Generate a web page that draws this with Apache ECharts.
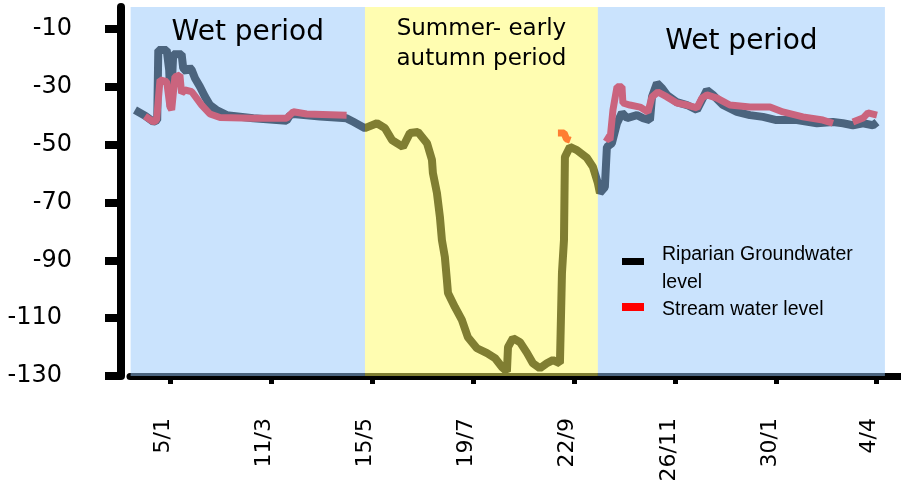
<!DOCTYPE html>
<html>
<head>
<meta charset="utf-8">
<script src="https://cdn.jsdelivr.net/npm/echarts@6/dist/echarts.min.js"></script>
<style>
html,body{margin:0;padding:0;background:#fff;}
#chart{width:901px;height:485px;}
</style>
</head>
<body>
<div id="chart"></div>
<script>
// x values are days counted from 5 January (first tick)
var tickDays = [0, 65, 130, 195, 260, 325, 390, 454];
var tickLabels = ['5/1', '11/3', '15/5', '19/7', '22/9', '26/11', '30/1', '4/4'];
var yTicks = [-130, -110, -90, -70, -50, -30, -10];

// Riparian groundwater level
var gwDay = [-22.5, -16, -10.7, -8.2, -7.5, -2.1, -0.5, 0.5, 1.2, 2.1, 7.5, 8.5, 10.7, 12.5, 14, 16.1, 19.3, 22.5, 25.7, 30, 36.5, 53.6, 75, 77, 79.3, 96.5, 113.6, 117.9, 125.4,
  133.1, 138.3, 142.8, 149.8, 154.3, 159.5, 165.3, 168.5, 169.1, 171.7, 173.6, 174.9, 176.8, 178.1, 178.8, 183.3, 187.8, 191.6, 197.4, 203.9, 209, 213.5, 216.7, 217.4, 220.6, 225.1, 229.6, 233.4, 237.9, 242.4, 246.3, 250.8, 252.1, 253.4, 254, 257.2, 261.7, 268.2, 272, 275.2,
  276.5, 279.7, 281, 284.2, 287.5, 290.7, 293.9, 300.3, 304.2, 308.7, 310, 313.2, 316.4, 319.6, 326, 332.5, 338.9, 342.1, 345.3, 349.2, 355.6, 364.6, 373, 381.4, 390, 403.2, 416.1, 426.4, 432.8, 439.2, 445.7, 452.1, 454.7];
var gwLevel = [-38.0, -40.0, -42.1, -41.5, -17.3, -17.3, -24.2, -36.9, -37.5, -18.7, -18.7, -23.5, -24.8, -23.2, -24.2, -27, -30, -33.4, -36.3, -38, -39.8, -40.9, -41.7, -40.0, -39.4, -40.3, -40.9, -42.1, -44.3,
  -42.6, -44.3, -48.4, -50.8, -46, -45.6, -49.5, -55.3, -59.8, -66.7, -75, -83, -88.9, -96.8, -101.3, -106.2, -110.7, -116.6, -120.4, -122.1, -123.8, -126.9, -128.5, -120, -116.9, -118.3, -122, -125.6, -127.3, -125.6, -124.5, -125.6, -94.4, -83, -54.3, -50.8, -51.9, -54.6, -57.7, -63.3,
  -66.7, -64.7, -50.8, -49.5, -42.6, -39, -40.8, -39.8, -40.8, -41.5, -33.5, -28.7, -30.4, -32.8, -35.3, -36.3, -38, -34.6, -31.1, -32.8, -36.3, -38.7, -39.8, -40.4, -41.5, -41.5, -42.6, -42.2, -42.6, -43.3, -42.6, -43.3, -42.2];

// Stream water level (null = no record)
var swDay = [-16.1, -10.7, -8.6, -7.5, -6.4, -2.1, 0, 1.1, 3.2, 6.4, 7.5, 9.6, 14, 17.2, 20.4, 25.7, 32.2, 53.6, 75, 79.3, 87.9, 113.6, 180,
  249.5, 253.5, 255, 257.5, 268,
  279.7, 283, 284.9, 287.5, 290.7, 291.3, 295.8, 302.3, 307.4, 310, 313.8, 319.6, 326, 332.5, 338.9, 342.1, 345.3, 351.8, 360.1, 373, 385.9, 394.2, 407.1, 419.9, 426.4, 432,
  439.2, 445.7, 448.9, 454.7];
var swLevel = [-40.1, -42.1, -41.5, -34.6, -27.6, -28.2, -36.9, -38, -26.5, -25.9, -32.2, -31.1, -31.7, -34, -36.3, -39.4, -40.6, -40.9, -40.9, -38.6, -39.4, -39.8, null,
  -46, -46, -48, -48.5, null,
  -47.3, -48.4, -38, -30, -30, -35.6, -36.3, -37, -38.7, -33.5, -31.8, -33.5, -35.6, -36.3, -37.3, -33.9, -32.8, -33.9, -36.3, -37, -37, -38.7, -40.4, -41.5, -42.6, null,
  -42.2, -40.8, -39, -39.8];

// shaded periods
var periodStart = [-25.3, 125.4, 275.2];
var periodEnd = [125.4, 275.2, 459.8];
var periodNames = ['Wet period', 'Summer- early\nautumn period', 'Wet period'];
var periodColors = ['rgba(150,200,252,0.5)', 'rgba(255,252,100,0.5)', 'rgba(150,200,252,0.5)'];

var gwName = 'Riparian Groundwater level';
var swName = 'Stream water level';

function zip(xs, ys) {
  return xs.map(function (x, i) { return [x, ys[i] === null ? '-' : ys[i]]; });
}

var labelStyles = [
  { fontSize: 28, distance: 10, lineHeight: 32 },
  { fontSize: 23, distance: 7, lineHeight: 30 },
  { fontSize: 28, distance: 19, lineHeight: 32 }
];

var areaData = periodStart.map(function (s, i) {
  return [
    {
      xAxis: s,
      name: periodNames[i],
      itemStyle: { color: periodColors[i] },
      label: {
        show: true,
        position: 'insideTop',
        distance: labelStyles[i].distance,
        fontSize: labelStyles[i].fontSize,
        lineHeight: labelStyles[i].lineHeight,
        fontFamily: 'DejaVu Sans',
        color: '#000',
        align: 'center'
      }
    },
    { xAxis: periodEnd[i] }
  ];
});

var legendText = { fontFamily: 'Liberation Sans', fontSize: 19.5, color: '#000' };

var chart = echarts.init(document.getElementById('chart'), null, { renderer: 'canvas' });
chart.setOption({
  animation: false,
  backgroundColor: '#fff',
  grid: { left: 130, right: 1, top: 7, bottom: 109, containLabel: false },
  legend: [
    {
      data: [gwName],
      orient: 'vertical',
      left: 617,
      top: 240,
      z: 20,
      icon: 'rect',
      itemWidth: 22,
      itemHeight: 7,
      formatter: function () { return '{a|Riparian Groundwater}\n{b|level}'; },
      textStyle: {
        fontFamily: 'Liberation Sans', fontSize: 19.5, color: '#000',
        rich: {
          a: Object.assign({ lineHeight: 43, padding: [0, 0, 0, 13] }, legendText),
          b: Object.assign({ lineHeight: 13, padding: [0, 0, 0, 13] }, legendText)
        }
      }
    },
    {
      data: [swName],
      orient: 'vertical',
      left: 617,
      top: 289,
      z: 20,
      icon: 'rect',
      itemWidth: 22,
      itemHeight: 8,
      formatter: function (n) { return '{a|' + n + '}'; },
      textStyle: {
        fontFamily: 'Liberation Sans', fontSize: 19.5, color: '#000',
        rich: { a: Object.assign({ lineHeight: 26, padding: [6, 0, 0, 13] }, legendText) }
      }
    }
  ],
  xAxis: {
    type: 'value',
    min: -25.7,
    max: 469.5,
    splitLine: { show: false },
    axisLine: { show: true, onZero: false, lineStyle: { color: '#000', width: 7 } },
    axisTick: { show: true, customValues: tickDays, length: 8, lineStyle: { color: '#000', width: 5 } },
    axisLabel: {
      customValues: tickDays,
      rotate: 90,
      margin: 42,
      fontFamily: 'DejaVu Sans',
      fontSize: 22,
      color: '#000',
      formatter: function (v) {
        var i = tickDays.indexOf(v);
        return i >= 0 ? '{t|' + tickLabels[i] + '}' : '';
      },
      rich: {
        t: { fontFamily: 'DejaVu Sans', fontSize: 22, color: '#000', padding: [0, 0, 13, 0] }
      }
    }
  },
  yAxis: {
    type: 'value',
    min: -130,
    max: -2.4,
    offset: 9,
    splitLine: { show: false },
    axisLine: { show: true, onZero: false, lineStyle: { color: '#000', width: 8 } },
    axisTick: { show: true, customValues: yTicks, length: 16, lineStyle: { color: '#000', width: 8 } },
    axisLabel: {
      customValues: yTicks,
      margin: 49,
      fontFamily: 'DejaVu Sans',
      fontSize: 24,
      color: '#000',
      formatter: function (v) {
        return Math.abs(v) >= 100 ? '{w|' + v + '}' : '{n|' + v + '}';
      },
      rich: {
        w: { fontFamily: 'DejaVu Sans', fontSize: 24, color: '#000', padding: [0, 10, 0, 0] },
        n: { fontFamily: 'DejaVu Sans', fontSize: 24, color: '#000' }
      }
    }
  },
  series: [
    {
      name: gwName,
      type: 'line',
      z: 2,
      data: zip(gwDay, gwLevel),
      showSymbol: false,
      symbol: 'none',
      lineStyle: { color: '#000', width: 8, join: 'bevel' },
      itemStyle: { color: '#000' }
    },
    {
      name: swName,
      type: 'line',
      z: 3,
      data: zip(swDay, swLevel),
      showSymbol: false,
      symbol: 'none',
      connectNulls: false,
      lineStyle: { color: '#ff0000', width: 7, join: 'bevel' },
      itemStyle: { color: '#ff0000' }
    },
    {
      name: 'periods',
      type: 'line',
      z: 10,
      data: [],
      silent: true,
      markArea: { silent: true, z: 10, data: areaData }
    }
  ]
});
</script>
</body>
</html>
